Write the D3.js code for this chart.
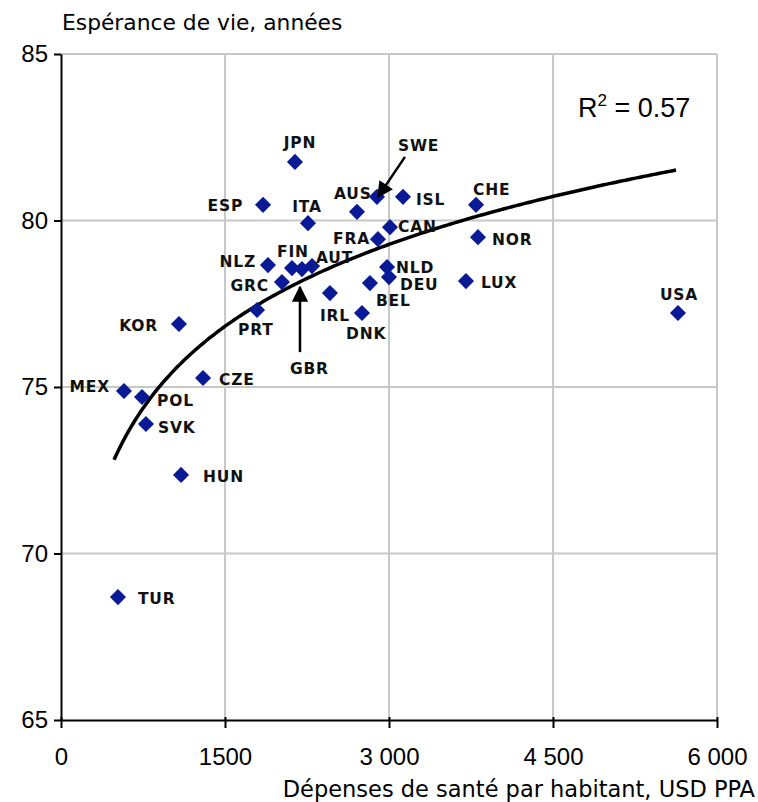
<!DOCTYPE html>
<html>
<head>
<meta charset="utf-8">
<script src="https://cdn.jsdelivr.net/npm/d3@7"></script>
<style>
  html, body { margin: 0; padding: 0; background: #fff; }
  svg { display: block; }
</style>
</head>
<body>
<svg id="chart" width="758" height="802"></svg>
<script>
// ---- Data ----
const countries = ["JPN","ESP","ITA","AUS","SWE","ISL","CHE","CAN","FRA","NOR","NLZ","FIN","GBR","AUT","GRC","NLD","DEU","BEL","LUX","USA","IRL","DNK","PRT","KOR","MEX","POL","SVK","CZE","HUN","TUR"];
const spending = [2140,1848,2259,2707,2890,3128,3796,3009,2899,3814,1893,2113,2204,2296,2021,2982,3000,2826,3704,5643,2460,2753,1793,1079,576,741,777,1299,1098,521];
const lifeExp  = [81.76,80.47,79.92,80.26,80.71,80.71,80.47,79.80,79.44,79.50,78.66,78.57,78.54,78.63,78.15,78.60,78.30,78.12,78.18,77.22,77.82,77.22,77.31,76.89,74.88,74.70,73.89,75.27,72.36,68.69];
const xTicks = [0,1500,3000,4500,6000];
const xTickLabels = ["0","1500","3 000","4 500","6 000"];
const yTicks = [65,70,75,80,85];
// Logarithmic trend line: y = a + b ln(x)
const trendA = 50.86, trendB = 3.55;
const trendRange = [485, 5643];
const rSquared = "0.57";

// ---- Layout (label placement, pixels relative to point) ----
const labelPos = {
  JPN:["middle",5,-14], ESP:["end",-20,6], ITA:["middle",-1,-11], AUS:["start",-23,-13],
  SWE:["start",21,-46], ISL:["start",13,8], CHE:["start",-3,-10], CAN:["start",8,5],
  FRA:["end",-8,5], NOR:["start",14,8], NLZ:["end",-12,2], FIN:["start",-15,-11],
  GBR:["start",-12,105], AUT:["start",4,-3], GRC:["end",-13,9], NLD:["start",9,6],
  DEU:["start",11,13], BEL:["start",6,23], LUX:["start",15,7], USA:["middle",1,-13],
  IRL:["start",-10,28], DNK:["start",-16,26], PRT:["start",-19,25], KOR:["end",-21,7],
  MEX:["end",-14,1], POL:["start",15,9], SVK:["start",12,9], CZE:["start",16,7],
  HUN:["start",22,7], TUR:["start",20,7]
};
const arrows = { GBR: [[-2,83],[-2,18]], SWE: [[28,-40],[1,0]] };

const svg = d3.select("#chart");
const x = d3.scaleLinear().domain([0,6000]).range([61,717]);
const y = d3.scaleLinear().domain([65,85]).range([720,54]);
const font = "'DejaVu Sans', sans-serif";
const tickFont = "'Liberation Sans', Arial, sans-serif";

// gridlines
svg.append("g").selectAll("line").data(xTicks.slice(1)).join("line")
  .attr("x1", d=>x(d)).attr("x2", d=>x(d)).attr("y1", y(85)).attr("y2", y(65))
  .attr("stroke","#c8c8c8").attr("stroke-width",2);
svg.append("g").selectAll("line").data(yTicks.slice(1)).join("line")
  .attr("x1", x(0)).attr("x2", x(6000)).attr("y1", d=>y(d)).attr("y2", d=>y(d))
  .attr("stroke","#c8c8c8").attr("stroke-width",2);

// axes
const xAxis = d3.axisBottom(x).tickValues(xTicks).tickSize(8).tickSizeOuter(0)
  .tickFormat((d,i)=>xTickLabels[i]);
const gx = svg.append("g").attr("transform",`translate(0,${y(65)})`).call(xAxis);
gx.select(".domain").attr("stroke","#000").attr("stroke-width",2);
gx.selectAll(".tick line").attr("stroke","#000").attr("stroke-width",2).attr("y1",-3);
gx.selectAll(".tick text").attr("font-family",tickFont).attr("font-size",24).attr("fill","#000")
  .attr("y",45).attr("dy",0);

const yAxis = d3.axisLeft(y).tickValues(yTicks).tickSize(7).tickSizeOuter(0);
const gy = svg.append("g").attr("transform",`translate(${x(0)},0)`).call(yAxis);
gy.select(".domain").attr("stroke","#000").attr("stroke-width",2);
gy.selectAll(".tick line").attr("stroke","#000").attr("stroke-width",2);
gy.selectAll(".tick text").attr("font-family",tickFont).attr("font-size",24).attr("fill","#000").attr("x",-13);

// titles
svg.append("text").attr("x",62).attr("y",30).attr("font-family",font).attr("font-size",21.8)
  .attr("fill","#000").text("Espérance de vie, années");
svg.append("text").attr("x",755).attr("y",797).attr("text-anchor","end").attr("font-family",font)
  .attr("font-size",22.5).attr("fill","#000").text("Dépenses de santé par habitant, USD PPA");

// trend line
const trendXs = d3.range(trendRange[0], trendRange[1]+1, 20);
svg.append("path").datum(trendXs)
  .attr("d", d3.line().x(d=>x(d)).y(d=>y(trendA + trendB*Math.log(d))))
  .attr("fill","none").attr("stroke","#000").attr("stroke-width",3.5);

// points
const pts = countries.map((c,i)=>({c, xv: spending[i], yv: lifeExp[i]}));
svg.append("g").selectAll("path").data(pts).join("path")
  .attr("transform", d=>`translate(${x(d.xv)},${y(d.yv)})`)
  .attr("d", d3.symbol(d3.symbolDiamond2, 165)())
  .attr("fill","#0a1a96");

// labels
svg.append("g").selectAll("text").data(pts).join("text")
  .attr("x", d=>x(d.xv)+labelPos[d.c][1])
  .attr("y", d=>y(d.yv)+labelPos[d.c][2])
  .attr("text-anchor", d=>labelPos[d.c][0])
  .attr("font-family",font).attr("font-weight","bold").attr("font-size",15.5)
  .attr("letter-spacing",0.8).attr("fill","#111")
  .text(d=>d.c);

// arrows
svg.append("defs").append("marker").attr("id","ah").attr("viewBox","0 0 10 10")
  .attr("refX",9).attr("refY",5).attr("markerWidth",7).attr("markerHeight",6.5)
  .attr("markerUnits","strokeWidth").attr("orient","auto")
  .append("path").attr("d","M0,0 L10,5 L0,10 z").attr("fill","#000");
Object.entries(arrows).forEach(([c,[tail,tip]])=>{
  const p = pts.find(d=>d.c===c);
  svg.append("line")
    .attr("x1", x(p.xv)+tail[0]).attr("y1", y(p.yv)+tail[1])
    .attr("x2", x(p.xv)+tip[0]).attr("y2", y(p.yv)+tip[1])
    .attr("stroke","#000").attr("stroke-width",2.5).attr("marker-end","url(#ah)");
});

// R squared
const rt = svg.append("text").attr("x",578).attr("y",117).attr("font-family","'Liberation Sans', Arial, sans-serif")
  .attr("font-size",27).attr("fill","#000");
rt.append("tspan").text("R");
rt.append("tspan").attr("font-size",17).attr("dy",-11).text("2");
rt.append("tspan").attr("dy",11).text(" = " + rSquared);
</script>
</body>
</html>
